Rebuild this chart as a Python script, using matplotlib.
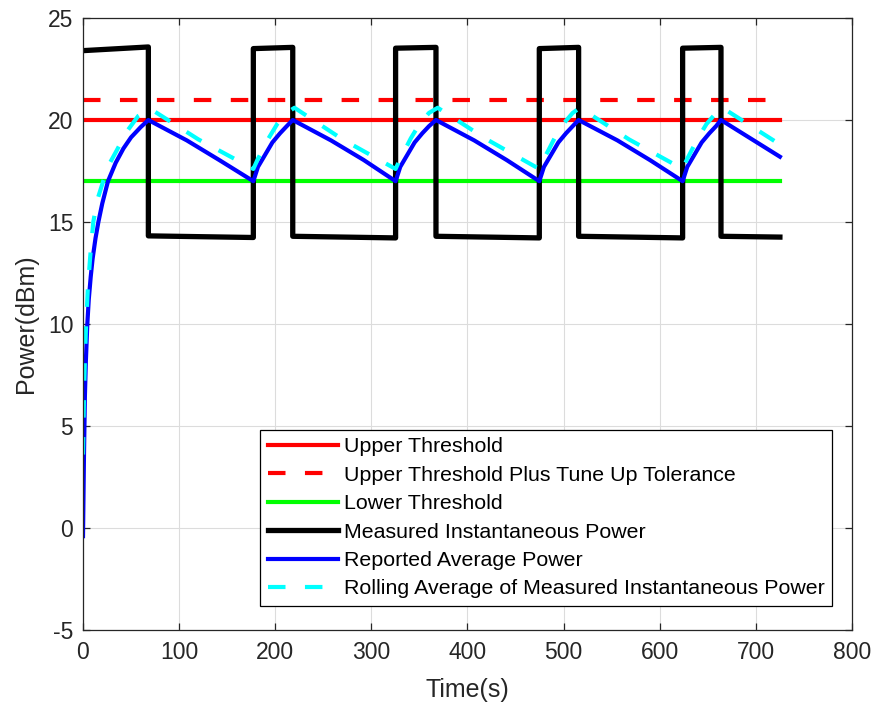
import matplotlib
matplotlib.use("Agg")
import matplotlib.pyplot as plt

plt.rcParams['font.family'] = ['Liberation Sans', 'DejaVu Sans']
plt.rcParams['lines.scale_dashes'] = False
plt.rcParams['axes.unicode_minus'] = False

# Threshold levels (dBm) and the time span they cover (s)
upper_threshold = 20.0
upper_plus_tolerance = 21.0
lower_threshold = 17.0
threshold_span = [0, 725]

# Measured instantaneous power: switching between high and low output
inst_time = [0, 68.0, 68.0, 177.2, 177.2, 218.2, 218.2, 325.2, 325.2, 367.2,
             367.2, 474.7, 474.7, 515.6, 515.6, 623.8, 623.8, 663.7, 663.7, 725]
inst_power = [23.40, 23.58, 14.32, 14.24, 23.50, 23.56, 14.30, 14.22, 23.52, 23.56,
              14.30, 14.22, 23.50, 23.56, 14.30, 14.22, 23.52, 23.56, 14.30, 14.26]

# Reported average power
avg_time = [0, 1, 2, 3, 4.5, 6, 8, 10, 13, 16, 20, 26, 34, 42, 50, 60, 68.0,
            108, 142, 177.2, 182, 187, 192, 197, 205, 212, 218.2,
            258, 292, 325.2, 330, 335, 340, 345, 353, 360, 367.2,
            407, 441, 474.7, 479.5, 484.5, 489.5, 494.5, 502.5, 509.5, 515.6,
            556, 590, 623.8, 628.6, 633.6, 638.6, 643.6, 651.6, 658.6, 663.7, 725]
avg_power = [-0.4, 3.5, 6.5, 8.2, 10.0, 11.2, 12.3, 13.2, 14.2, 15.0, 15.9, 17.0, 17.9, 18.6, 19.15, 19.65, 20.0,
             19.0, 18.03, 17.0, 17.7, 18.1, 18.5, 18.9, 19.35, 19.7, 20.0,
             19.0, 18.04, 17.0, 17.7, 18.1, 18.5, 18.9, 19.35, 19.7, 20.0,
             19.0, 18.03, 17.0, 17.7, 18.1, 18.5, 18.9, 19.35, 19.7, 20.0,
             19.0, 18.03, 17.0, 17.7, 18.1, 18.5, 18.9, 19.35, 19.7, 20.0, 18.2]

# Rolling average of the measured instantaneous power
roll_time = [0, 1, 2, 3, 5, 7.5, 10.7, 15, 21, 28, 35, 45, 57.5, 70.0,
             120, 177.2, 182, 187, 193, 202, 212, 220.0,
             270, 325.2, 330, 335, 341, 350, 360, 369.0,
             420, 474.7, 479.5, 484.5, 490.5, 499.5, 509.5, 517.0,
             568, 623.8, 628.6, 633.6, 639.6, 648.6, 658.6, 665.2, 725]
roll_power = [3.6, 6.4, 8.3, 9.7, 11.7, 13.3, 15.0, 16.1, 17.0, 17.9, 18.5, 19.4, 20.2, 20.55,
              19.05, 17.6, 18.1, 18.55, 19.1, 19.8, 20.35, 20.6,
              19.05, 17.6, 18.1, 18.55, 19.1, 19.8, 20.35, 20.6,
              19.05, 17.6, 18.1, 18.55, 19.1, 19.8, 20.35, 20.6,
              19.05, 17.6, 18.1, 18.55, 19.1, 19.8, 20.35, 20.6, 18.8]

x_ticks = [0, 100, 200, 300, 400, 500, 600, 700, 800]
y_ticks = [-5, 0, 5, 10, 15, 20, 25]

fig = plt.figure(figsize=(8.79, 7.04), dpi=100)
ax = fig.add_axes([83 / 879, 1 - 630 / 704, (852 - 83) / 879, (630 - 18) / 704])

dash = (12.6, 14.0)
lw = 3.0
ax.plot(threshold_span, [upper_threshold] * 2, color=(1, 0, 0), lw=lw,
        label='Upper Threshold')
ax.plot(threshold_span, [upper_plus_tolerance] * 2, color=(1, 0, 0), lw=lw,
        dashes=dash, label='Upper Threshold Plus Tune Up Tolerance')
ax.plot(threshold_span, [lower_threshold] * 2, color=(0, 1, 0), lw=lw,
        label='Lower Threshold')
ax.plot(inst_time, inst_power, color='black', lw=3.8,
        label='Measured Instantaneous Power')
ax.plot(avg_time, avg_power, color=(0, 0, 1), lw=lw,
        label='Reported Average Power')
ax.plot(roll_time, roll_power, color=(0, 1, 1), lw=lw, dashes=dash,
        label='Rolling Average of Measured Instantaneous Power')

ax.set_xlim(0, 800)
ax.set_ylim(-5, 25)
ax.set_xticks(x_ticks)
ax.set_yticks(y_ticks)
ax.grid(True, color='#dcdcdc', lw=0.8)
ax.set_axisbelow(True)

spine_col = '#262626'
for s in ax.spines.values():
    s.set_color(spine_col)
    s.set_linewidth(0.9)
ax.tick_params(direction='in', length=5, width=0.9, color=spine_col,
               labelcolor=spine_col, labelsize=16.5, top=True, right=True)
ax.tick_params(axis='x', pad=8)
ax.tick_params(axis='y', pad=7)

ax.set_xlabel('Time(s)', fontsize=18, color=spine_col, labelpad=10)
ax.set_ylabel('Power(dBm)', fontsize=18, color=spine_col, labelpad=7)

leg = ax.legend(loc='lower right', bbox_to_anchor=(0.974, 0.039), borderaxespad=0,
                fontsize=15.4, handlelength=3.25, handletextpad=0.28, borderpad=0.36,
                labelspacing=0.44, fancybox=False, framealpha=1, edgecolor='black')
leg.get_frame().set_linewidth(0.9)
for t in leg.get_texts():
    t.set_color('black')

fig.savefig('out.png', dpi=100)
